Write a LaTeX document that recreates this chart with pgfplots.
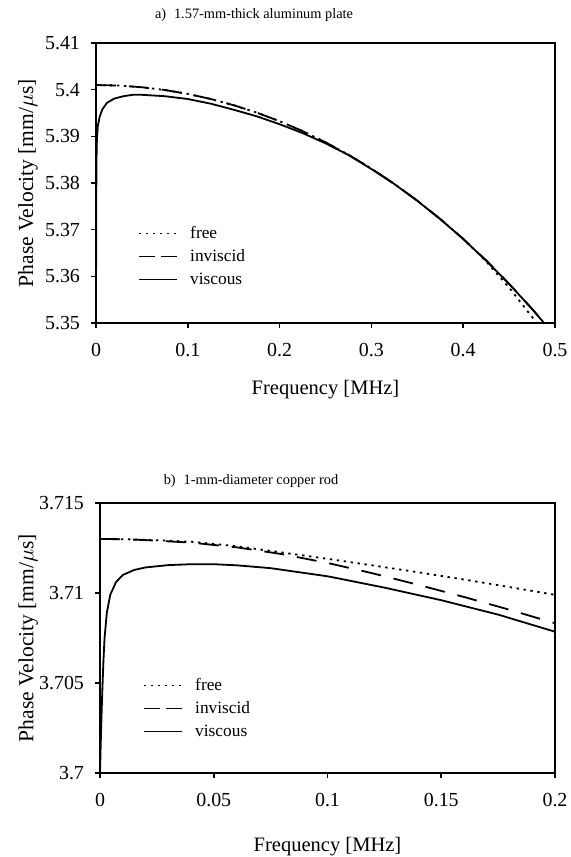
\documentclass[border=0pt]{standalone}
\usepackage{fontspec}
\setmainfont{Liberation Serif}
\usepackage{pgfplots}
\pgfplotsset{compat=1.18}

% shared look of both panels
\pgfplotsset{
  panel/.style={
    scale only axis,
    axis line style={line width=0.9bp},
    tick style={line width=0.8bp, black},
    tick align=outside,
    major tick length=2.5bp,
    xtick pos=bottom, ytick pos=left,
    ticklabel style={font=\fontsize{10}{12}\selectfont},
    xlabel style={font=\fontsize{10.3}{12}\selectfont},
    ylabel style={font=\fontsize{10.8}{12}\selectfont},
    yticklabel style={xshift=-2bp},
    xticklabel style={yshift=-4bp},
    legend cell align=left,
    legend style={draw=none, fill=none, inner sep=0pt, row sep=0pt,
      font=\fontsize{8.7}{10}\selectfont,
      nodes={inner sep=1.25bp, text height=7bp, text depth=2bp},
      /tikz/every odd column/.append style={column sep=5bp}},
    legend image code/.code={\draw[##1] (0bp,0bp) -- (19bp,0bp);},
  },
  free/.style={black, line width=0.9bp, dash pattern=on 1.2bp off 2.3bp},
  invis/.style={black, line width=0.9bp, dash pattern=on 10bp off 6.5bp,
    legend image code/.code={\draw[black, line width=0.9bp, dash pattern=on 8bp off 3bp] (0bp,0bp) -- (19bp,0bp);}},
  visc/.style={black, line width=0.9bp},
}

\begin{document}
\begin{tikzpicture}
\useasboundingbox (0,0) rectangle (285.5bp,-428.5bp);

\node[font=\fontsize{7.2}{9}\selectfont] at (127bp,-7.5bp) {a)\hspace{0.55em}1.57-mm-thick aluminum plate};
\node[font=\fontsize{7.2}{9}\selectfont] at (125.5bp,-240.5bp) {b)\hspace{0.55em}1-mm-diameter copper rod};

% ---------------- a) aluminum plate
\begin{axis}[panel,
    at={(48bp,-161.5bp)}, anchor=south west,
    width=229.5bp, height=140bp,
    xmin=0, xmax=0.5, ymin=5.35, ymax=5.41,
    xtick={0,0.1,0.2,0.3,0.4,0.5},
    xticklabels={0,0.1,0.2,0.3,0.4,0.5},
    ytick={5.35,5.36,5.37,5.38,5.39,5.4,5.41},
    yticklabels={5.35,5.36,5.37,5.38,5.39,5.4,5.41},
    xlabel={Frequency [MHz]},
    ylabel={Phase Velocity [mm/$\mu$s]},
    xlabel style={at={(axis description cs:0.5,-0.239)}, anchor=center},
    ylabel style={at={(axis description cs:-0.148,0.5)}, anchor=center},
    legend style={at={(axis description cs:0.0905,0.3625)}, anchor=north west},
]
\addplot[free] coordinates {
 (0,5.4010) (0.025,5.40088) (0.05,5.40052) (0.075,5.39993) (0.1,5.39909)
 (0.125,5.39801) (0.15,5.39667) (0.175,5.39509) (0.2,5.39324) (0.225,5.39113)
 (0.25,5.38873) (0.275,5.38606) (0.3,5.38309) (0.325,5.37982) (0.35,5.37622)
 (0.375,5.37230) (0.4,5.36804) (0.425,5.36320) (0.45,5.35760) (0.475,5.35130)
 (0.49,5.34700)
};
\addlegendentry{free}
\addplot[invis] coordinates {
 (0,5.4010) (0.025,5.40088) (0.05,5.40052) (0.075,5.39993) (0.1,5.39909)
 (0.125,5.39801) (0.15,5.39667) (0.175,5.39509) (0.2,5.39324) (0.225,5.39113)
 (0.25,5.38873) (0.275,5.38606) (0.3,5.38309) (0.325,5.37982) (0.35,5.37622)
 (0.375,5.37230) (0.4,5.36804) (0.425,5.36342) (0.45,5.35842) (0.475,5.35304)
 (0.49,5.34962)
};
\addlegendentry{inviscid}
\addplot[visc] coordinates {
 (0,5.3500) (0.0002,5.3720) (0.0005,5.3845) (0.001,5.3895) (0.002,5.3922)
 (0.004,5.3942) (0.007,5.3958) (0.012,5.3972) (0.02,5.3981) (0.03,5.3986)
 (0.04,5.3989) (0.05,5.3989) (0.075,5.3986) (0.1,5.3980) (0.125,5.3970)
 (0.15,5.3957) (0.175,5.3943) (0.2,5.3926) (0.225,5.3907) (0.25,5.3885)
 (0.275,5.3860) (0.3,5.3830) (0.325,5.37978) (0.35,5.37618) (0.375,5.37226)
 (0.4,5.36800) (0.425,5.36338) (0.45,5.35838) (0.475,5.35300) (0.49,5.34958)
};
\addlegendentry{viscous}
\end{axis}

% ---------------- b) copper rod
\begin{axis}[panel,
    at={(50bp,-386.5bp)}, anchor=south west,
    width=227.5bp, height=135bp,
    xmin=0, xmax=0.2, ymin=3.7, ymax=3.715,
    xtick={0,0.05,0.1,0.15,0.2},
    xticklabels={0,0.05,0.1,0.15,0.2},
    ytick={3.7,3.705,3.71,3.715},
    yticklabels={3.7,3.705,3.71,3.715},
    xlabel={Frequency [MHz]},
    ylabel={Phase Velocity [mm/$\mu$s]},
    xlabel style={at={(axis description cs:0.5,-0.272)}, anchor=center},
    ylabel style={at={(axis description cs:-0.158,0.5)}, anchor=center},
    legend style={at={(axis description cs:0.0935,0.3685)}, anchor=north west},
]
\addplot[free] coordinates {
 (0,3.71300) (0.01,3.71299) (0.02,3.71296) (0.04,3.71285) (0.06,3.71260)
 (0.08,3.71225) (0.1,3.71190) (0.12,3.71153) (0.14,3.71115) (0.16,3.71075)
 (0.18,3.71033) (0.2,3.70990)
};
\addlegendentry{free}
\addplot[invis] coordinates {
 (0,3.71300) (0.01,3.71299) (0.02,3.71294) (0.04,3.71280) (0.06,3.71254)
 (0.08,3.71216) (0.1,3.71167) (0.12,3.71109) (0.14,3.71045) (0.16,3.70978)
 (0.18,3.70907) (0.2,3.70832)
};
\addlegendentry{inviscid}
\addplot[visc] coordinates {
 (0,3.7000) (0.0005,3.7025) (0.001,3.7045) (0.0015,3.7062) (0.002,3.7075)
 (0.003,3.7089) (0.0045,3.7099) (0.007,3.7106) (0.01,3.7110) (0.015,3.71128)
 (0.02,3.71142) (0.03,3.71155) (0.04,3.71160) (0.05,3.71160) (0.06,3.71154)
 (0.075,3.71138) (0.1,3.71093) (0.125,3.71030) (0.15,3.70960) (0.175,3.70880)
 (0.2,3.70785)
};
\addlegendentry{viscous}
\end{axis}
\end{tikzpicture}
\end{document}
